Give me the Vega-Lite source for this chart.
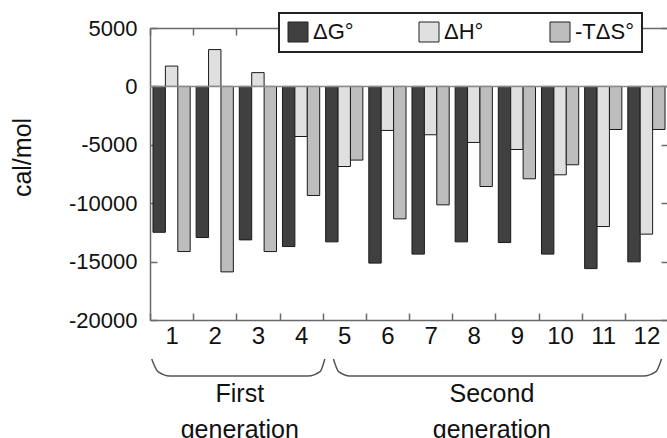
{
  "$schema": "https://vega.github.io/schema/vega-lite/v6.json",
  "width": 518,
  "height": 292,
  "autosize": {"type": "none"},
  "padding": {"left": 150, "top": 28, "right": 0, "bottom": 118},
  "background": "white",
  "config": {
    "view": {"stroke": null},
    "font": "Liberation Sans",
    "axis": {
      "grid": false,
      "domainColor": "#6a6a6a",
      "domainWidth": 1.5,
      "tickColor": "#6a6a6a",
      "tickWidth": 1.5,
      "labelColor": "#111111",
      "titleColor": "#111111",
      "labelFont": "Liberation Sans",
      "titleFont": "Liberation Sans",
      "titleFontWeight": "normal"
    },
    "legend": {
      "orient": "none",
      "legendX": 129,
      "legendY": -15,
      "direction": "horizontal",
      "fillColor": "#ffffff",
      "strokeColor": "#222222",
      "strokeWidth": 2,
      "padding": 8,
      "symbolType": "square",
      "symbolSize": 400,
      "symbolStrokeColor": "#222222",
      "symbolStrokeWidth": 1,
      "symbolOpacity": 1,
      "labelFont": "Liberation Sans",
      "labelFontSize": 22,
      "labelColor": "#111111",
      "labelOffset": 4,
      "columnPadding": 45,
      "gridAlign": "all"
    }
  },
  "datasets": {
    "bars": [
      {"g": "1", "s": "ΔG°", "v": -12490},
      {"g": "1", "s": "ΔH°", "v": 1740},
      {"g": "1", "s": "-TΔS°", "v": -14140},
      {"g": "2", "s": "ΔG°", "v": -12940},
      {"g": "2", "s": "ΔH°", "v": 3150},
      {"g": "2", "s": "-TΔS°", "v": -15880},
      {"g": "3", "s": "ΔG°", "v": -13140},
      {"g": "3", "s": "ΔH°", "v": 1180},
      {"g": "3", "s": "-TΔS°", "v": -14140},
      {"g": "4", "s": "ΔG°", "v": -13710},
      {"g": "4", "s": "ΔH°", "v": -4290},
      {"g": "4", "s": "-TΔS°", "v": -9340},
      {"g": "5", "s": "ΔG°", "v": -13310},
      {"g": "5", "s": "ΔH°", "v": -6860},
      {"g": "5", "s": "-TΔS°", "v": -6310},
      {"g": "6", "s": "ΔG°", "v": -15130},
      {"g": "6", "s": "ΔH°", "v": -3770},
      {"g": "6", "s": "-TΔS°", "v": -11340},
      {"g": "7", "s": "ΔG°", "v": -14360},
      {"g": "7", "s": "ΔH°", "v": -4140},
      {"g": "7", "s": "-TΔS°", "v": -10140},
      {"g": "8", "s": "ΔG°", "v": -13310},
      {"g": "8", "s": "ΔH°", "v": -4800},
      {"g": "8", "s": "-TΔS°", "v": -8570},
      {"g": "9", "s": "ΔG°", "v": -13370},
      {"g": "9", "s": "ΔH°", "v": -5400},
      {"g": "9", "s": "-TΔS°", "v": -7910},
      {"g": "10", "s": "ΔG°", "v": -14360},
      {"g": "10", "s": "ΔH°", "v": -7570},
      {"g": "10", "s": "-TΔS°", "v": -6710},
      {"g": "11", "s": "ΔG°", "v": -15600},
      {"g": "11", "s": "ΔH°", "v": -12000},
      {"g": "11", "s": "-TΔS°", "v": -3690},
      {"g": "12", "s": "ΔG°", "v": -15020},
      {"g": "12", "s": "ΔH°", "v": -12650},
      {"g": "12", "s": "-TΔS°", "v": -3690}
    ],
    "brackets": [
      {"b": "first", "i": 1, "px": 0.04, "py": -23340},
      {"b": "first", "i": 2, "px": 0.185, "py": -24420},
      {"b": "first", "i": 3, "px": 0.46, "py": -24790},
      {"b": "first", "i": 4, "px": 3.66, "py": -24790},
      {"b": "first", "i": 5, "px": 3.94, "py": -24420},
      {"b": "first", "i": 6, "px": 4.05, "py": -23340},
      {"b": "second", "i": 1, "px": 4.25, "py": -23340},
      {"b": "second", "i": 2, "px": 4.37, "py": -24420},
      {"b": "second", "i": 3, "px": 4.63, "py": -24790},
      {"b": "second", "i": 4, "px": 11.43, "py": -24790},
      {"b": "second", "i": 5, "px": 11.72, "py": -24420},
      {"b": "second", "i": 6, "px": 11.85, "py": -23340}
    ],
    "groups": [
      {"t": "First\ngeneration", "px": 2.08, "py": -26990},
      {"t": "Second\ngeneration", "px": 7.92, "py": -26990}
    ]
  },
  "layer": [
    {
      "data": {"name": "bars"},
      "mark": {"type": "bar", "stroke": "#1a1a1a", "strokeWidth": 1},
      "encoding": {
        "x": {
          "field": "g", "type": "nominal", "sort": null,
          "scale": {"paddingInner": 0, "paddingOuter": 0},
          "axis": {"orient": "bottom", "title": null, "labelAngle": 0, "labelFontSize": 24, "tickBand": "extent", "tickSize": -7, "labelPadding": 11}
        },
        "xOffset": {
          "field": "s", "type": "nominal",
          "scale": {"domain": ["ΔG°", "ΔH°", "-TΔS°"], "paddingInner": 0, "paddingOuter": 0.24}
        },
        "y": {
          "field": "v", "type": "quantitative",
          "scale": {"domain": [-20000, 5000], "nice": false, "zero": false},
          "axis": {
            "orient": "left", "values": [-20000, -15000, -10000, -5000, 0, 5000],
            "labelExpr": "'' + datum.value",
            "title": "cal/mol", "labelFontSize": 22, "tickSize": -7, "labelPadding": 20,
            "titleFontSize": 25, "titleX": -128, "titleY": 129, "titleAngle": -90,
            "titleBaseline": "middle", "titleAlign": "center"
          }
        },
        "color": {
          "field": "s", "type": "nominal",
          "scale": {"domain": ["ΔG°", "ΔH°", "-TΔS°"], "range": ["#404040", "#e0e0e0", "#bdbdbd"]},
          "legend": {"title": null}
        }
      }
    },
    {
      "data": {"values": [{}]},
      "mark": {"type": "rule", "color": "#8a8a8a", "strokeWidth": 1.5},
      "encoding": {"y": {"datum": 0}}
    },
    {
      "data": {"name": "bars"},
      "mark": {"type": "bar", "opacity": 0},
      "encoding": {
        "x": {
          "field": "g", "type": "nominal", "sort": null,
          "scale": {"paddingInner": 0, "paddingOuter": 0},
          "axis": {"orient": "top", "title": null, "labels": false, "tickBand": "extent", "tickSize": -7}
        },
        "xOffset": {
          "field": "s", "type": "nominal",
          "scale": {"domain": ["ΔG°", "ΔH°", "-TΔS°"], "paddingInner": 0, "paddingOuter": 0.24}
        },
        "y": {
          "field": "v", "type": "quantitative",
          "scale": {"domain": [-20000, 5000], "nice": false, "zero": false},
          "axis": {"orient": "right", "title": null, "labels": false, "values": [-20000, -15000, -10000, -5000, 0, 5000], "tickSize": -7}
        }
      }
    },
    {
      "data": {"name": "brackets"},
      "mark": {"type": "line", "interpolate": "monotone", "color": "#555555", "strokeWidth": 1.5},
      "encoding": {
        "x": {"field": "px", "type": "quantitative", "scale": {"domain": [0, 12], "nice": false, "zero": false}, "axis": null},
        "y": {"field": "py", "type": "quantitative", "scale": {"domain": [-20000, 5000], "nice": false, "zero": false}, "axis": null},
        "detail": {"field": "b"},
        "order": {"field": "i"}
      }
    },
    {
      "data": {"name": "groups"},
      "mark": {"type": "text", "fontSize": 25, "lineBreak": "\n", "lineHeight": 36, "baseline": "alphabetic", "align": "center", "color": "#111111", "font": "Liberation Sans"},
      "encoding": {
        "x": {"field": "px", "type": "quantitative", "scale": {"domain": [0, 12], "nice": false, "zero": false}, "axis": null},
        "y": {"field": "py", "type": "quantitative", "scale": {"domain": [-20000, 5000], "nice": false, "zero": false}, "axis": null},
        "text": {"field": "t"}
      }
    }
  ],
  "resolve": {"scale": {"x": "independent"}}
}
